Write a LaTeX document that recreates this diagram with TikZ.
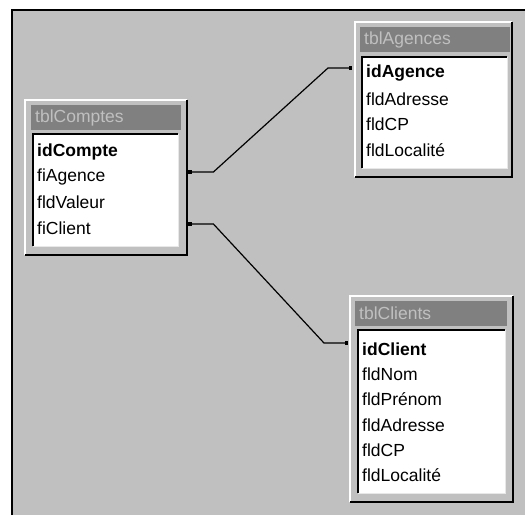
\documentclass[tikz,border=0pt]{standalone}
\usepackage{fontspec}
\setmainfont{Liberation Sans}
\usetikzlibrary{arrows.meta,calc}
\definecolor{wingray}{HTML}{C0C0C0}
\definecolor{winshadow}{HTML}{808080}
\definecolor{winlight}{HTML}{E8E8E8}

\begin{document}
\begin{tikzpicture}[x=1pt, y=-1pt,
        font=\fontsize{17.5}{20}\selectfont,
        tabframe/.style = {rectangle, fill=wingray, inner sep=0, anchor=north west},
        titlebar/.style = {rectangle, fill=winshadow, text=wingray, anchor=north west, align=left,
                inner xsep=4pt, inner ysep=0, minimum height=25pt},
        listbox/.style = {rectangle, fill=white, inner sep=0, anchor=north west},
        raised/.style = {draw=white, line width=1.5pt},
        sunken/.style = {draw=black, line width=1.5pt},
        outshade/.style = {draw=black, line width=2pt},
        inlight/.style = {draw=winlight, line width=1.5pt},
        field/.style = {anchor=west, inner sep=0},
        keyfield/.style = {field, font=\fontsize{17.5}{20}\selectfont\bfseries},
        link/.style = {draw=black, line width=1.2pt, {Square[length=3.5pt,width=3.5pt]}-{Square[length=3.5pt,width=3.5pt]}}
        ]
        \useasboundingbox (0,0) rectangle (525,515);
        \fill[white] (0,0) rectangle (525,515);
        \fill[wingray] (12,10) rectangle (525,515);
        \draw[black, line width=2.5pt] (12,515) |- (525,10);

        % tblComptes
        \node[tabframe, minimum width=162pt, minimum height=155pt] (comptes) at (25,100) {};
        \draw[raised] (comptes.south west) |- (comptes.north east);
        \draw[outshade] (comptes.south west) -| (comptes.north east);
        \node[titlebar, text width=142pt] (comptesbar) at (31,105) {tblComptes};
        \node[listbox, minimum width=145pt, minimum height=112pt] (compteslist) at (33,134) {};
        \draw[sunken] (compteslist.south west) |- (compteslist.north east);
        \draw[inlight] (compteslist.south west) -| (compteslist.north east);
        \node[keyfield] (idcompte) at (37,152) {idCompte};
        \node[field] (fiagence) at (37,177) {fiAgence};
        \node[field] (fldvaleur) at (37,202) {fldValeur};
        \node[field] (ficlient) at (37,228) {fiClient};

        % tblAgences
        \node[tabframe, minimum width=157pt, minimum height=155pt] (agences) at (355,22) {};
        \draw[raised] (agences.south west) |- (agences.north east);
        \draw[outshade] (agences.south west) -| (agences.north east);
        \node[titlebar, text width=142pt] (agencesbar) at (360,27) {tblAgences};
        \node[listbox, minimum width=145pt, minimum height=111pt] (agenceslist) at (362,57) {};
        \draw[sunken] (agenceslist.south west) |- (agenceslist.north east);
        \draw[inlight] (agenceslist.south west) -| (agenceslist.north east);
        \node[keyfield] (idagence) at (366,73) {idAgence};
        \node[field] (agadresse) at (366,99) {fldAdresse};
        \node[field] (agcp) at (366,124) {fldCP};
        \node[field] (aglocalite) at (366,150) {fldLocalité};

        % tblClients
        \node[tabframe, minimum width=163pt, minimum height=206pt] (clients) at (350,296) {};
        \draw[raised] (clients.south west) |- (clients.north east);
        \draw[outshade] (clients.south west) -| (clients.north east);
        \node[titlebar, text width=144pt] (clientsbar) at (355,301) {tblClients};
        \node[listbox, minimum width=147pt, minimum height=163pt] (clientslist) at (358,330) {};
        \draw[sunken] (clientslist.south west) |- (clientslist.north east);
        \draw[inlight] (clientslist.south west) -| (clientslist.north east);
        \node[keyfield] (idclient) at (362,349) {idClient};
        \node[field] (clnom) at (362,374) {fldNom};
        \node[field] (clprenom) at (362,399) {fldPrénom};
        \node[field] (cladresse) at (362,425) {fldAdresse};
        \node[field] (clcp) at (362,450) {fldCP};
        \node[field] (cllocalite) at (362,475) {fldLocalité};

        % relations
        \draw[link] ($(comptes.east |- fiagence) + (1,-5)$) -- ++(25,0)
                -- ($(agences.west |- idagence) + (-27,-5)$) -- ($(agences.west |- idagence) + (-3,-5)$);
        \draw[link] ($(comptes.east |- ficlient) + (1,-4)$) -- ++(25,0)
                -- ($(clients.west |- idclient) + (-26,-6)$) -- ($(clients.west |- idclient) + (-2,-6)$);
\end{tikzpicture}
\end{document}
